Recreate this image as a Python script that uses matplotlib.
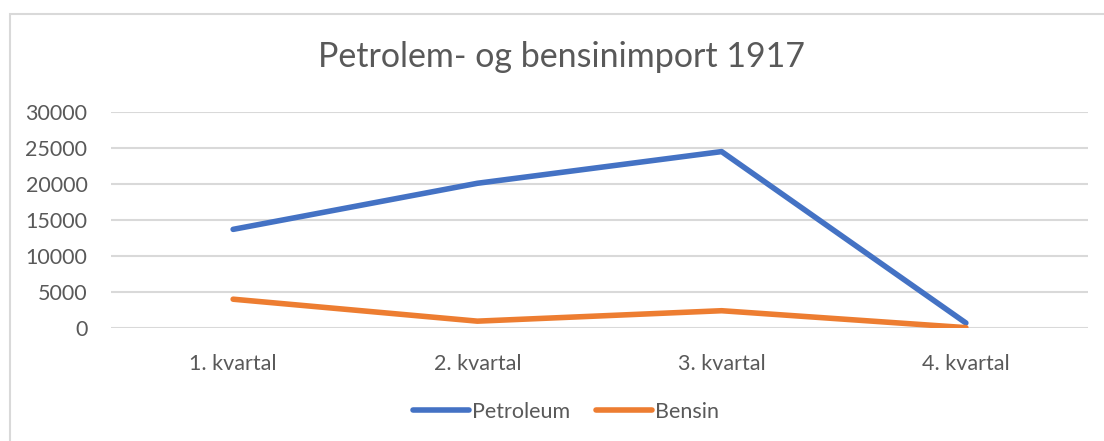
import matplotlib
matplotlib.use("Agg")
import matplotlib.pyplot as plt
from matplotlib.patches import Rectangle

# data
kvartal = ["1. kvartal", "2. kvartal", "3. kvartal", "4. kvartal"]
petroleum = [13700, 20100, 24500, 700]
bensin = [4000, 950, 2400, 50]
y_ticks = [0, 5000, 10000, 15000, 20000, 25000, 30000]

plt.rcParams['font.family'] = ['Lato', 'DejaVu Sans']
text_col = '#595959'
grid_col = '#D9D9D9'

fig = plt.figure(figsize=(11.04, 4.41), dpi=100)
ax = fig.add_axes([111 / 1104, 1 - 328 / 441, (1088 - 111) / 1104, (328 - 112) / 441])

x = list(range(len(kvartal)))
ax.plot(x, petroleum, color='#4472C4', lw=4, solid_capstyle='round', solid_joinstyle='round', label='Petroleum', zorder=3)
ax.plot(x, bensin, color='#ED7D31', lw=4, solid_capstyle='round', solid_joinstyle='round', label='Bensin', zorder=3)

ax.set_xlim(-0.5, len(kvartal) - 0.5)
ax.set_ylim(0, 30000)
ax.set_yticks(y_ticks)
ax.set_yticklabels([str(v) for v in y_ticks])
ax.set_xticks(x)
ax.set_xticklabels(kvartal)
ax.grid(axis='y', color=grid_col, lw=1.5)
ax.set_axisbelow(True)
for s in ax.spines.values():
    s.set_visible(False)
ax.tick_params(length=0, labelsize=15.5, colors=text_col)
ax.tick_params(axis='y', pad=17)
ax.tick_params(axis='x', pad=19)

fig.text(561 / 1104, 1 - 57 / 441, "Petrolem- og bensinimport 1917", ha='center', va='center',
         fontsize=24.5, color=text_col)

leg = fig.legend(loc='center', bbox_to_anchor=(566 / 1104, 1 - 412 / 441), ncol=2, frameon=False,
                 fontsize=15.5, handlelength=2.6, handletextpad=0.15, columnspacing=1.2)
for t in leg.get_texts():
    t.set_color(text_col)

# chart border, cut off at right and bottom like in the reference
fig.patches.append(Rectangle((9.5 / 1104, -0.1), 1.2, 1 - 13.5 / 441 + 0.1, transform=fig.transFigure,
                             fill=False, edgecolor=grid_col, lw=1.5))

fig.savefig("out.png", dpi=100)
